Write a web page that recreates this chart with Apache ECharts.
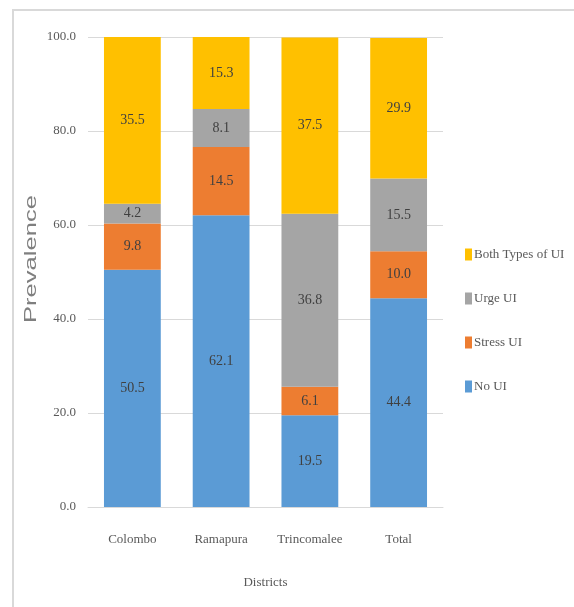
<!DOCTYPE html>
<html>
<head>
<meta charset="utf-8">
<script src="https://cdn.jsdelivr.net/npm/echarts@6/dist/echarts.min.js"></script>
<style>
html, body { margin: 0; padding: 0; background: #fff; }
#frame { position: absolute; left: 12px; top: 9px; width: 580px; height: 620px;
         border-top: 2px solid #d9d9d9; border-left: 2px solid #d9d9d9; }
#chart { position: absolute; left: 0; top: 0; width: 574px; height: 607px; }
</style>
</head>
<body>
<div id="frame"></div>
<div id="chart"></div>
<script>
// Districts and stacked prevalence (%)
var districts = ['Colombo', 'Ramapura', 'Trincomalee', 'Total'];
var noUI = [50.5, 62.1, 19.5, 44.4];
var stressUI = [9.8, 14.5, 6.1, 10.0];
var urgeUI = [4.2, 8.1, 36.8, 15.5];
var bothUI = [35.5, 15.3, 37.5, 29.9];
var yTicks = [0, 20, 40, 60, 80, 100];

var chart = echarts.init(document.getElementById('chart'));

var font = 'Liberation Serif';
var textGray = '#595959';

function barSeries(name, data, color) {
    return {
        name: name,
        type: 'bar',
        stack: 'ui',
        barWidth: '64%',
        data: data,
        itemStyle: { color: color },
        label: {
            show: true,
            position: 'inside',
            color: '#404040',
            fontFamily: font,
            fontSize: 14,
            formatter: function(p) { return p.value.toFixed(1); }
        }
    };
}

var option = {
    backgroundColor: 'transparent',
    animation: false,
    grid: { left: 88, right: 131, top: 37, bottom: 100 },
    legend: {
        orient: 'vertical',
        left: 460,
        top: 243,
        itemWidth: 7,
        itemHeight: 12,
        itemGap: 31,
        icon: 'rect',
        data: ['Both Types of UI', 'Urge UI', 'Stress UI', 'No UI'],
        textStyle: { color: textGray, fontFamily: font, fontSize: 13, padding: [0, 0, 0, -3] }
    },
    // stretched axis title, like the original's
    graphic: [{
        type: 'text',
        x: 32,
        y: 259,
        rotation: Math.PI / 2,
        scaleX: 1.6,
        style: {
            text: 'Prevalence',
            fill: '#7f7f7f',
            font: '16px "Liberation Sans"',
            align: 'center',
            verticalAlign: 'middle'
        }
    }],
    xAxis: {
        type: 'category',
        data: districts,
        name: 'Districts',
        nameLocation: 'middle',
        nameGap: 69,
        nameTextStyle: { color: textGray, fontFamily: font, fontSize: 13 },
        axisLine: { lineStyle: { color: '#d9d9d9' } },
        axisTick: { show: false },
        axisLabel: { color: textGray, fontFamily: font, fontSize: 13, margin: 26 }
    },
    yAxis: {
        type: 'value',
        min: yTicks[0],
        max: yTicks[yTicks.length - 1],
        interval: 20,
        axisLine: { show: false },
        axisTick: { show: false },
        axisLabel: {
            color: textGray, fontFamily: font, fontSize: 13, margin: 12,
            formatter: function(v) { return v.toFixed(1); }
        },
        splitLine: { lineStyle: { color: '#d9d9d9' } }
    },
    series: [
        barSeries('No UI', noUI, '#5B9BD5'),
        barSeries('Stress UI', stressUI, '#ED7D31'),
        barSeries('Urge UI', urgeUI, '#A5A5A5'),
        barSeries('Both Types of UI', bothUI, '#FFC000')
    ]
};

chart.setOption(option);
</script>
</body>
</html>
